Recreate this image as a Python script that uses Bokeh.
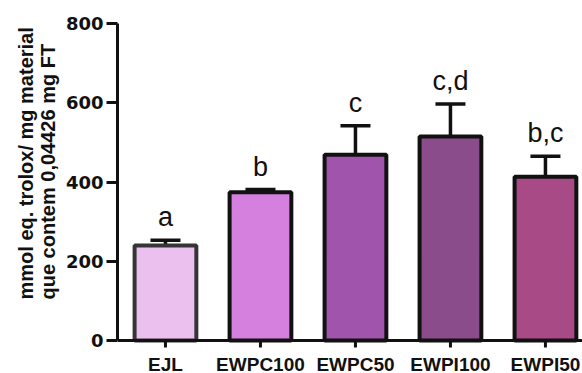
from bokeh.plotting import figure
from bokeh.models import ColumnDataSource, Range1d, FixedTicker, Whisker, TeeHead, Title
from bokeh.embed import file_html
from bokeh.resources import INLINE
from bokeh.core.properties import value

categories = ["EJL", "EWPC100", "EWPC50", "EWPI100", "EWPI50"]
means = [240, 374, 469, 515, 413]
errors = [13, 7, 73, 82, 52]
letters = ["a", "b", "c", "c,d", "b,c"]
fill_colors = ["#EBC0EE", "#D580DF", "#A054AC", "#8B4C8B", "#A84A85"]
outline_colors = ["#353535", "#111111", "#111111", "#111111", "#111111"]
y_ticks = [0, 200, 400, 600, 800]

xs = list(range(len(categories)))
upper = [m + e for m, e in zip(means, errors)]
zeros = [0] * len(xs)

# layout constants (pixels)
W, H = 582, 373
BORDER_LEFT, BORDER_TOP = 117, 23
FRAME_H = H - BORDER_TOP
Y_TOP = 800
PX_PER_UNIT = 317 / Y_TOP
Y_BOTTOM = -(FRAME_H - 317) / PX_PER_UNIT
X_START, X_END = -0.505, 4.39
TICK_LEN_PX = 7

src = ColumnDataSource(dict(x=xs, top=means, upper=upper, fill=fill_colors,
                            line=outline_colors, letter=letters, zero=zeros,
                            tick_end=[-TICK_LEN_PX / PX_PER_UNIT] * len(xs),
                            cat=categories))

p = figure(width=W, height=H, output_backend="svg", toolbar_location=None,
           x_range=Range1d(X_START, X_END), y_range=Range1d(Y_BOTTOM, Y_TOP),
           min_border_left=BORDER_LEFT, min_border_right=0,
           min_border_top=BORDER_TOP, min_border_bottom=0)

p.vbar(x="x", top="top", bottom=0, width=0.65, source=src, fill_color="fill",
       line_color="line", line_width=4)

wh = Whisker(base="x", lower="top", upper="upper", source=src,
             line_width=3.5, line_color="#111111",
             upper_head=TeeHead(size=30, line_width=3.5, line_color="#111111"),
             lower_head=None)
p.add_layout(wh)

p.text(x="x", y="upper", text="letter", source=src, text_align="center",
       text_baseline="bottom", y_offset=-8, text_font=value("Liberation Sans"),
       text_font_size="27px", text_color="#111111")

# x axis drawn manually so that the frame can reach the page bottom
p.segment(x0=[X_START], y0=[0], x1=[X_END], y1=[0], line_width=3, line_color="#111111")
p.segment(x0="x", y0="zero", x1="x", y1="tick_end", source=src,
          line_width=3, line_color="#111111")
p.text(x="x", y="zero", text="cat", source=src, text_align="center",
       text_baseline="top", y_offset=13, text_font=value("Liberation Sans"),
       text_font_style="bold", text_font_size="19px", text_color="#111111")
p.xaxis.visible = False

p.xgrid.visible = False
p.ygrid.visible = False
p.outline_line_color = None

ax = p.yaxis
ax.bounds = (0, Y_TOP)
ax.ticker = FixedTicker(ticks=y_ticks)
ax.axis_line_width = 3
ax.axis_line_color = "#111111"
ax.major_tick_line_width = 3
ax.major_tick_line_color = "#111111"
ax.major_tick_in = 0
ax.major_tick_out = 11
ax.minor_tick_line_color = None
ax.major_label_standoff = 3
ax.major_label_text_font = "DejaVu Sans"
ax.major_label_text_font_style = "bold"
ax.major_label_text_font_size = "18px"
ax.major_label_text_color = "#111111"

ytitle = Title(text="mmol eq. trolox/ mg material\nque contem 0,04426 mg FT",
               align="left", offset=74, standoff=8,
               text_font="Liberation Sans", text_font_style="bold",
               text_font_size="20px", text_line_height=1.0,
               text_color="#111111")
p.add_layout(ytitle, "left")

open("out.html", "w").write(file_html(p, INLINE))
